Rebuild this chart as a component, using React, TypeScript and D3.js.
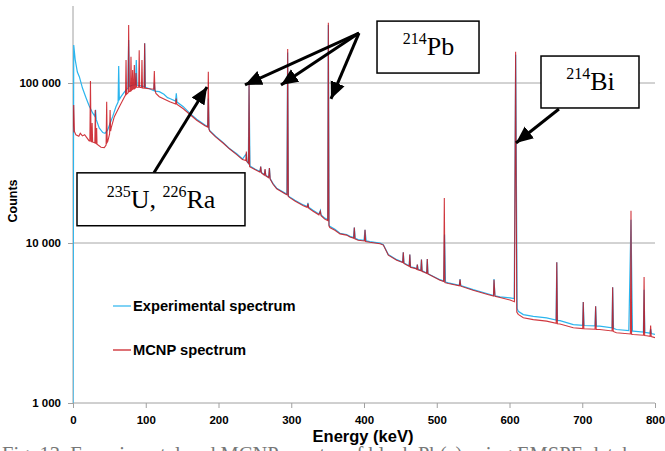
import React, { useEffect, useRef } from "react";
import * as d3 from "d3";

// ---------- data (energy keV, counts) ----------
const expSpectrum: [number, number][] = [
  [0, 800], [1, 172600], [3, 140000], [6, 117000], [8.7, 109500], [13, 93000], [18, 80600],
  [22, 72400], [27, 65000], [30, 62000], [31, 67900], [32, 59000], [36, 52400], [41, 49000],
  [44, 48500], [47.7, 50900], [51, 56000], [54.5, 61600], [59, 71100], [62, 76000],
  [62.8, 127700], [63.7, 79000], [66, 82100], [70, 87000], [73, 90400], [75.5, 93000],
  [76.5, 185400], [77.5, 95000], [82, 97200], [86, 97500], [87, 139100], [88, 97000],
  [91, 96500], [98, 95000], [98.5, 176900], [99.5, 94000], [105, 92000], [111, 89500],
  [111.8, 100000], [112.8, 89000], [118.6, 88300], [125, 85000], [130, 81000], [133, 80000],
  [141, 77000], [142, 86200], [143, 76000], [151.6, 71100], [160, 65000], [170, 59400],
  [181.4, 54700], [185, 53500], [186, 80000], [187, 52000], [188, 50400], [196, 46500],
  [206.6, 42400], [215, 39000], [225, 36100], [233, 33500], [238, 36000], [239, 32500],
  [241, 31500], [242, 97200], [243.3, 30300], [250, 29000], [257, 28000], [258, 30000],
  [259, 27600], [263, 26800], [264, 28800], [265, 26500], [269, 25800], [270, 29400],
  [271, 25300], [275, 23500], [280, 22000], [291.4, 20500], [294, 20200], [295, 155000],
  [296, 19700], [298, 19400], [305, 18500], [316.6, 17300], [322, 16900], [323, 17800],
  [324, 16700], [330, 16000], [338, 15200], [340, 16000], [341, 15000], [346, 14300],
  [350, 14000], [351, 230000], [352, 13000], [353, 12700], [360, 12200], [367, 11500],
  [376, 11300], [380.8, 11000], [385.5, 10800], [386.7, 12500], [388, 10700], [392, 10500],
  [400, 10400], [401.4, 12100], [403, 10300], [408, 10200], [415, 10100], [422, 10000],
  [426.6, 9760], [433.4, 8460], [445, 7870], [453, 7600], [454, 8740], [455, 7500],
  [458.7, 7330], [462, 7200], [463, 8460], [464, 7100], [470, 6990], [472.5, 6900],
  [473.3, 7330], [474.5, 6850], [478, 6750], [479, 7870], [480, 6700], [481.5, 6650],
  [486, 6500], [487, 7950], [488, 6450], [490.7, 6340], [504.5, 5900], [509.5, 5780],
  [510.7, 11300], [512, 5700], [516, 5630], [531, 5440], [532, 5960], [533, 5420],
  [550, 5110], [570, 4820], [578, 4700], [578.7, 5960], [580, 4680], [587, 4610],
  [600.7, 4540], [606.5, 4500], [608.5, 150000], [610.5, 3900], [612, 3745], [619, 3570],
  [632.7, 3480], [651, 3400], [664, 3300], [665, 7570], [666, 3280], [669.4, 3270],
  [687.7, 3090], [700.5, 3060], [701.4, 4280], [702.5, 3050], [717.5, 3030], [718.4, 4020],
  [719.5, 3020], [724, 3020], [741, 2950], [741.8, 5280], [743, 2930], [747, 2880],
  [764, 2830], [767, 13970], [769, 2810], [770, 2810], [784, 2770], [785, 5110], [786, 2760],
  [788.6, 2750], [793, 2730], [794, 2900], [795, 2720], [800, 2680],
];

const mcnpSpectrum: [number, number][] = [
  [0, 49000], [1, 72900], [2, 49700], [4, 47400], [8, 46500], [10, 48500], [13, 46700],
  [16, 47500], [22, 43600], [23.2, 43400], [24, 102900], [24.8, 43300], [25.6, 43000],
  [26.3, 56300], [27, 42800], [30, 42200], [30.7, 67900], [31.4, 42000], [32, 41800],
  [32.5, 52400], [33, 41500], [38.5, 39700], [43, 39500], [45.5, 41000], [46.3, 76400],
  [47, 42500], [47.7, 43000], [50.3, 48000], [51, 67900], [51.7, 50000], [52.5, 52400],
  [56.8, 61600], [63.7, 71100], [70.5, 81400], [72.2, 84000], [72.9, 139100], [73.6, 85000],
  [75.8, 87000], [76.5, 230000], [77.2, 88300], [79, 89000], [79.7, 145900], [80.4, 90000],
  [81.3, 91000], [82, 120500], [82.7, 91500], [83.6, 92000], [84.3, 129500], [85, 92500],
  [86, 93500], [86.6, 115400], [87.3, 94000], [90.3, 94000], [91, 160000], [91.7, 94000],
  [94.1, 93500], [94.8, 139100], [95.5, 93200], [97.8, 93000], [98.5, 176900], [99.2, 92700],
  [105, 92000], [111, 91400], [111.8, 118800], [112.6, 90500], [114, 86000], [118.6, 82100],
  [125, 79500], [133, 76400], [141, 74000], [141.8, 80000], [142.6, 73800], [151.6, 69000],
  [160, 64000], [170, 58500], [181.4, 54000], [185.2, 53000], [186, 117600], [186.8, 51500],
  [188, 50000], [196, 46000], [206.6, 42000], [215, 38800], [225, 35700], [233, 33200],
  [237.5, 32800], [238.3, 37300], [239, 32300], [241.3, 31500], [242, 99000], [242.8, 30000],
  [250, 28800], [257, 27700], [258, 30000], [259, 27400], [263, 26500], [264, 29000],
  [265, 26300], [269, 25600], [270, 29400], [271, 25100], [275, 23300], [280, 21800],
  [291.4, 20300], [294.3, 20000], [295.1, 163000], [296, 19500], [298, 19200], [305, 18300],
  [316.6, 17100], [322, 16700], [323, 17600], [324, 16500], [330, 15800], [338, 15000],
  [340, 15800], [341, 14800], [346, 14100], [350.2, 13800], [351, 237700], [351.8, 12800],
  [353, 12500], [360, 12000], [367, 11400], [376, 11200], [380.8, 10900], [385.9, 10700],
  [386.7, 12500], [387.5, 10600], [392, 10400], [400.6, 10300], [401.4, 12100], [402.2, 10200],
  [408, 10100], [415, 10000], [422, 9900], [426.6, 9700], [433.4, 8400], [445, 7800],
  [453.2, 7550], [454, 8740], [454.8, 7450], [458.7, 7280], [462.2, 7150], [463, 8460],
  [463.8, 7050], [470, 6940], [472.5, 6850], [473.3, 7330], [474.1, 6800], [478.2, 6700],
  [479, 7870], [479.8, 6650], [481.5, 6600], [486.2, 6450], [487, 7950], [487.8, 6400],
  [490.7, 6300], [504.5, 5850], [509.6, 5740], [510.4, 19100], [511.2, 5650], [516, 5580],
  [531, 5400], [532, 5900], [533, 5370], [550, 5060], [570, 4770], [578, 4660], [578.7, 5900],
  [580, 4640], [587, 4560], [600.7, 4400], [606.8, 4300], [608.4, 157000], [610, 3700],
  [612, 3580], [619, 3410], [632.7, 3320], [651, 3250], [664.2, 3150], [665, 7570],
  [665.8, 3130], [669.4, 3120], [687.7, 2950], [700.6, 2920], [701.4, 4280], [702.2, 2910],
  [717.6, 2890], [718.4, 4020], [719.2, 2880], [724, 2880], [741, 2820], [741.8, 5280],
  [742.6, 2800], [747, 2750], [766.2, 2700], [767, 15900], [767.8, 2690], [770, 2680],
  [784.2, 2650], [785, 6140], [785.8, 2640], [788.6, 2630], [793.2, 2610], [794, 3050],
  [794.8, 2600], [800, 2560],
];

const xTicks = [0, 100, 200, 300, 400, 500, 600, 700, 800];
const yTicks = [1000, 10000, 100000];
const gridValues = [10000, 100000];
const seriesNames = ["Experimental spectrum", "MCNP spectrum"];
const xTitle = "Energy (keV)";
const yTitle = "Counts";
const caption = "Fig. 13. Experimental and MCNP spectra of black Pb(a) using EMSPE database";

// annotations in data units (energy, counts)
type Ann = {
  sup1: string; base1: string; sup2?: string; base2?: string;
  box: [number, number, number, number]; // e0, e1, cTop, cBottom
  text: [number, number]; // center energy, baseline counts
  tail: [number, number];
  tips: [number, number][];
};
const annotations: Ann[] = [
  { sup1: "214", base1: "Pb", box: [417.9, 558.1, 243700, 115400], text: [488.7, 149500],
    tail: [393.1, 205100], tips: [[236.4, 97200], [285.9, 97200], [354.6, 79500]] },
  { sup1: "214", base1: "Bi", box: [643.3, 778.0, 147400, 69800], text: [711.3, 90400],
    tail: [668.0, 68800], tips: [[608.9, 42200]] },
  { sup1: "235", base1: "U, ", sup2: "226", base2: "Ra", box: [5.5, 236.4, 27450, 12820],
    text: [121, 16600], tail: [111.3, 27450], tips: [[184.2, 94400]] },
];

const W = 665, H = 451;
const X0 = 73, X1 = 655, YTOP = 6, YBOT = 403;
const CYAN = "#2bb5ee";
const RED = "#c8141c";
const SANS = "'Liberation Sans', Arial, sans-serif";
const SERIF = "'Liberation Serif', 'Times New Roman', serif";

const x = d3.scaleLinear().domain([0, 800]).range([X0, X1]);
const y = d3.scaleLog().domain([1000, 100000]).range([YBOT, 83]);
const fmt = d3.formatLocale({ decimal: ".", thousands: " ", grouping: [3], currency: ["", ""] }).format(",d");

export default function App() {
  const gx = useRef<SVGGElement>(null);
  const gy = useRef<SVGGElement>(null);

  useEffect(() => {
    const ax = d3.axisBottom(x).tickValues(xTicks).tickSize(5).tickPadding(8).tickFormat(d3.format("d"));
    const sx = d3.select(gx.current!);
    sx.call(ax as any);
    sx.select(".domain").remove();
    sx.selectAll(".tick line").attr("stroke", "#a0a0a0");
    sx.selectAll(".tick text").attr("fill", "#000").style("font-family", SANS)
      .style("font-weight", "bold").style("font-size", "11.5px");

    const ay = d3.axisLeft(y).tickValues(yTicks).tickSize(5).tickPadding(7).tickFormat((d: any) => fmt(d));
    const sy = d3.select(gy.current!);
    sy.call(ay as any);
    sy.select(".domain").remove();
    sy.selectAll(".tick line").attr("stroke", "#a0a0a0");
    sy.selectAll(".tick text").attr("fill", "#000").style("font-family", SANS)
      .style("font-weight", "bold").style("font-size", "11.5px");
  }, []);

  const line = d3.line<[number, number]>().x((d) => x(d[0])).y((d) => y(d[1]));

  return (
    <svg width={W} height={H} style={{ position: "absolute", left: 0, top: 0, background: "#fff" }}>
      <defs>
        <clipPath id="plot">
          <rect x={X0} y={YTOP} width={X1 - X0} height={YBOT - YTOP} />
        </clipPath>
        <marker id="ah" markerUnits="userSpaceOnUse" markerWidth="18" markerHeight="16"
          viewBox="0 -8 18 16" refX="17" refY="0" orient="auto">
          <path d="M0,-7.5L17,0L0,7.5Z" fill="#000" />
        </marker>
      </defs>
      <rect width={W} height={H} fill="#fff" />
      {gridValues.map((v) => (
        <line key={v} x1={X0} x2={X1} y1={y(v)} y2={y(v)} stroke="#a6a6a6" strokeWidth={1} />
      ))}
      <line x1={X0} x2={X0} y1={YTOP} y2={YBOT} stroke="#a0a0a0" />
      <line x1={X0} x2={X1} y1={YBOT} y2={YBOT} stroke="#a0a0a0" />
      <g ref={gx} transform={`translate(0,${YBOT})`} />
      <g ref={gy} transform={`translate(${X0},0)`} />

      <g clipPath="url(#plot)" fill="none">
        <path d={line(expSpectrum) || ""} stroke={CYAN} strokeWidth={1.2} />
        <path d={line(mcnpSpectrum) || ""} stroke={RED} strokeWidth={1.1} opacity={0.85} />
      </g>

      {/* legend */}
      <line x1={113} x2={131} y1={306} y2={306} stroke={CYAN} strokeWidth={1.2} />
      <text x={133} y={311} fontFamily={SANS} fontWeight="bold" fontSize={14.7}>{seriesNames[0]}</text>
      <line x1={113} x2={131} y1={350} y2={350} stroke={RED} strokeWidth={1.2} />
      <text x={133} y={355} fontFamily={SANS} fontWeight="bold" fontSize={14.7}>{seriesNames[1]}</text>

      {/* titles */}
      <text x={363} y={442} textAnchor="middle" fontFamily={SANS} fontWeight="bold" fontSize={16.5}>{xTitle}</text>
      <text transform="translate(17,201) rotate(-90)" textAnchor="middle" fontFamily={SANS} fontWeight="bold" fontSize={12.5}>{yTitle}</text>

      {/* annotations */}
      {annotations.map((a, i) => (
        <g key={i}>
          {a.tips.map((t, j) => (
            <line key={j} x1={x(a.tail[0])} y1={y(a.tail[1])} x2={x(t[0])} y2={y(t[1])}
              stroke="#000" strokeWidth={3} markerEnd="url(#ah)" />
          ))}
          <rect x={x(a.box[0])} y={y(a.box[2])} width={x(a.box[1]) - x(a.box[0])}
            height={y(a.box[3]) - y(a.box[2])} fill="#fff" stroke="#000" strokeWidth={1.5} />
          <text x={x(a.text[0])} y={y(a.text[1])} textAnchor="middle" fontFamily={SERIF} fill="#000">
            <tspan fontSize={16} dy={-11}>{a.sup1}</tspan>
            <tspan fontSize={26} dy={11}>{a.base1}</tspan>
            {a.sup2 ? <tspan fontSize={16} dy={-11}>{a.sup2}</tspan> : null}
            {a.base2 ? <tspan fontSize={26} dy={11}>{a.base2}</tspan> : null}
          </text>
        </g>
      ))}

      <text x={2} y={461} fontFamily={SERIF} fontSize={20.5} fill="#777">{caption}</text>
    </svg>
  );
}
